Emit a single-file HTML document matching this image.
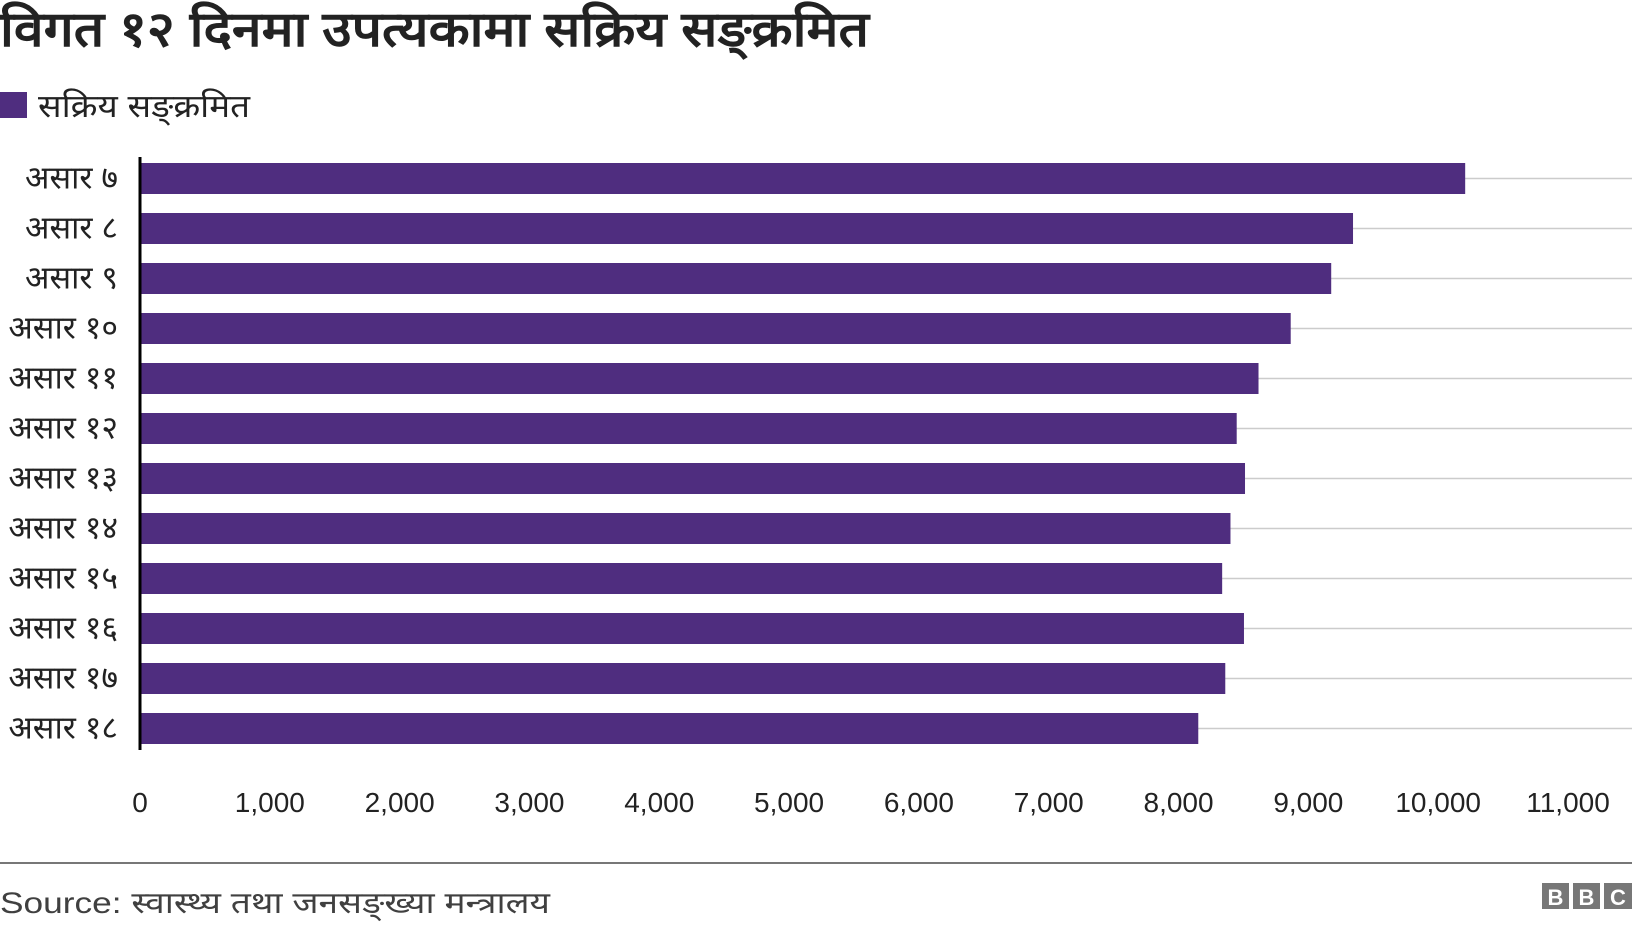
<!DOCTYPE html>
<html><head><meta charset="utf-8">
<style>
body{margin:0;width:1632px;height:930px;background:#fff;overflow:hidden;font-family:"Liberation Sans",sans-serif;}
svg{display:block}
</style></head>
<body>
<svg id="chart" width="1632" height="930">
<text x="0" y="46" font-size="49" font-weight="bold" fill="#222" textLength="869" lengthAdjust="spacingAndGlyphs">विगत १२ दिनमा उपत्यकामा सक्रिय सङ्क्रमित</text>
<rect x="0" y="92" width="27" height="26" fill="#4f2d7f"/>
<text x="38" y="117" font-size="32" fill="#222" textLength="212" lengthAdjust="spacingAndGlyphs">सक्रिय सङ्क्रमित</text>
<g id="grid"></g><g id="bars"></g><g id="ylabels"></g><g id="xlabels"></g>
<line x1="140" y1="157" x2="140" y2="750" stroke="#000" stroke-width="3"/>
<line x1="0" y1="863" x2="1632" y2="863" stroke="#777" stroke-width="2"/>
<text x="0" y="913" font-size="30" fill="#404040" textLength="550" lengthAdjust="spacingAndGlyphs">Source: स्वास्थ्य तथा जनसङ्ख्या मन्त्रालय</text>
<g>
<rect x="1542" y="883" width="27" height="26" fill="#777"/><text x="1555.5" y="905" font-size="22" font-weight="bold" fill="#fff" text-anchor="middle">B</text>
<rect x="1573" y="883" width="27" height="26" fill="#777"/><text x="1586.5" y="905" font-size="22" font-weight="bold" fill="#fff" text-anchor="middle">B</text>
<rect x="1604" y="883" width="28" height="26" fill="#777"/><text x="1618" y="905" font-size="22" font-weight="bold" fill="#fff" text-anchor="middle">C</text>
</g>
</svg>
<script>
const categories=["असार ७","असार ८","असार ९","असार १०","असार ११","असार १२","असार १३","असार १४","असार १५","असार १६","असार १७","असार १८"];
const values=[10208,9344,9176,8864,8616,8448,8512,8400,8336,8504,8360,8152];
const ticks=[0,1000,2000,3000,4000,5000,6000,7000,8000,9000,10000,11000];
const tickLabels=["0","1,000","2,000","3,000","4,000","5,000","6,000","7,000","8,000","9,000","10,000","11,000"];
const NS="http://www.w3.org/2000/svg";
const x0=140,x1=1568,xmax=11000;
function xs(v){return x0+(x1-x0)*v/xmax;}
function yc(i){return 178.5+50*i;}
const grid=document.getElementById('grid'),bars=document.getElementById('bars'),yl=document.getElementById('ylabels'),xl=document.getElementById('xlabels');
categories.forEach((c,i)=>{
 const g=document.createElementNS(NS,'line');
 
 
 g.setAttribute('x1',x0);g.setAttribute('x2',1632);g.setAttribute('y1',yc(i));g.setAttribute('y2',yc(i));
 g.setAttribute('stroke','#cccccc');g.setAttribute('stroke-width','1.5');grid.appendChild(g);
 const r=document.createElementNS(NS,'rect');
 
 
 r.setAttribute('x',x0);r.setAttribute('y',yc(i)-15.5);r.setAttribute('width',xs(values[i])-x0);r.setAttribute('height',31);
 r.setAttribute('fill','#4f2d7f');bars.appendChild(r);
 const t=document.createElementNS(NS,'text');
 
 
 t.setAttribute('x',118);t.setAttribute('y',yc(i)+10);t.setAttribute('text-anchor','end');t.setAttribute('font-size','32');t.setAttribute('fill','#222');
 t.textContent=c;yl.appendChild(t);
});
ticks.forEach((v,i)=>{
 const t=document.createElementNS(NS,'text');
 
 
 t.setAttribute('x',xs(v));t.setAttribute('y',812);t.setAttribute('text-anchor','middle');t.setAttribute('font-size','28');t.setAttribute('fill','#222');
 t.textContent=tickLabels[i];xl.appendChild(t);
});
</script>
</body></html>
